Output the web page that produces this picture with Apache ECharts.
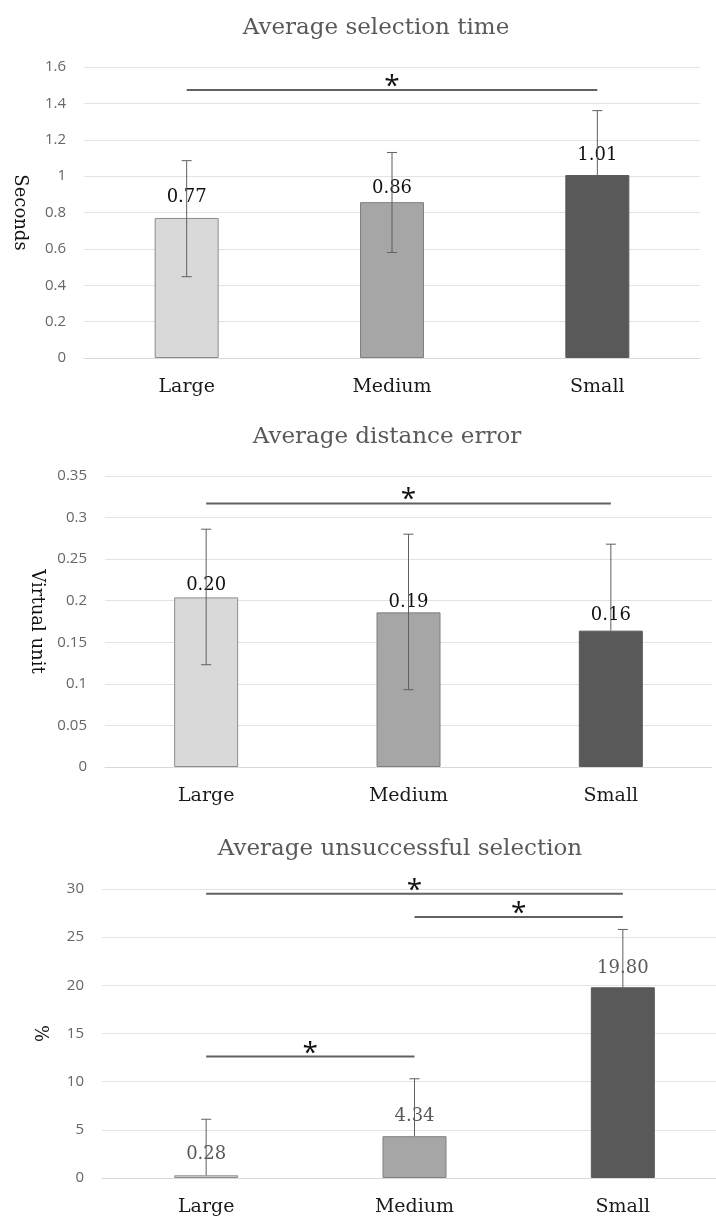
<!DOCTYPE html>
<html>
<head>
<meta charset="utf-8">
<script src="https://cdn.jsdelivr.net/npm/echarts@6/dist/echarts.min.js"></script>
<style>
* { margin: 0; padding: 0; }
body { background: #fff; overflow: hidden; }
#chart-container { width: 740px; height: 1221px; }
</style>
</head>
<body>
<div id="chart-container"></div>
<script>
const categories = ['Large', 'Medium', 'Small']

// Average selection time (seconds)
const timeMeans = [0.77, 0.857, 1.006]
const timeLow = [0.447, 0.58, 1.006]
const timeHigh = [1.085, 1.13, 1.36]
const timeSig = [[0, 2, 1.473]]

// Average distance error (virtual unit)
const distMeans = [0.204, 0.186, 0.164]
const distLow = [0.123, 0.093, 0.164]
const distHigh = [0.286, 0.280, 0.268]
const distSig = [[0, 2, 0.317]]

// Average unsuccessful selection (%) - only upper error shown
const failMeans = [0.28, 4.34, 19.80]
const failLow = [0.28, 4.34, 19.80]
const failHigh = [6.1, 10.3, 25.8]
const failSig = [[0, 2, 29.5], [1, 2, 27.1], [0, 1, 12.6]]

const barColors = ['#d9d9d9', '#a6a6a6', '#595959']
const barBorders = ['#8c8c8c', '#7f7f7f', '#595959']

const serif = "'DejaVu Serif', 'Liberation Serif', serif"
const sans = "'Open Sans', 'Noto Sans', sans-serif"

const panels = [
  {
    title: 'Average selection time', titleX: 376, titleY: 28,
    yName: 'Seconds', nameGap: 55,
    grid: { left: 84, top: 67, width: 616, height: 291 },
    max: 1.6, interval: 0.2,
    means: timeMeans, low: timeLow, high: timeHigh, sig: timeSig,
    labelGap: [12, 5, 11], labelColor: '#111'
  },
  {
    title: 'Average distance error', titleX: 387, titleY: 437,
    yName: 'Virtual unit', nameGap: 59,
    grid: { left: 105, top: 476, width: 607, height: 291 },
    max: 0.35, interval: 0.05,
    means: distMeans, low: distLow, high: distHigh, sig: distSig,
    labelGap: [3, 1, 6], labelColor: '#111'
  },
  {
    title: 'Average unsuccessful selection', titleX: 400, titleY: 849,
    yName: '%', nameGap: 53,
    grid: { left: 102, top: 889, width: 625, height: 289 },
    max: 30, interval: 5,
    means: failMeans, low: failLow, high: failHigh, sig: failSig,
    labelGap: [12, 11, 10], labelColor: '#595959'
  }
]

const chart = echarts.init(document.getElementById('chart-container'))

const grid = []
const xAxis = []
const yAxis = []
const series = []
const graphic = []

panels.forEach((p, i) => {
  grid.push(p.grid)
  graphic.push({
    type: 'text',
    x: p.titleX,
    y: p.titleY,
    style: {
      text: p.title,
      fill: '#595959',
      font: '23px ' + serif,
      textAlign: 'center',
      textVerticalAlign: 'middle'
    }
  })
  xAxis.push({
    type: 'category',
    gridIndex: i,
    data: categories,
    axisTick: { show: false },
    axisLine: { lineStyle: { color: '#d9d9d9', width: 1 } },
    axisLabel: { color: '#1a1a1a', fontFamily: serif, fontSize: 19, margin: 20 }
  })
  yAxis.push({
    type: 'value',
    gridIndex: i,
    min: 0,
    max: p.max,
    interval: p.interval,
    name: p.yName,
    nameLocation: 'middle',
    nameRotate: -90,
    nameGap: p.nameGap,
    nameTextStyle: { color: '#111', fontFamily: serif, fontSize: 18 },
    axisLine: { show: false },
    axisTick: { show: false },
    axisLabel: { color: '#666', fontFamily: sans, fontSize: 15, margin: 18 },
    splitLine: { lineStyle: { color: '#e3e3e3', width: 1 } }
  })

  series.push({
    type: 'bar',
    xAxisIndex: i,
    yAxisIndex: i,
    barWidth: 64,
    data: p.means.map((v, k) => ({
      value: v,
      itemStyle: { color: barColors[k], borderColor: barBorders[k], borderWidth: 1 },
      label: { distance: p.labelGap[k] }
    })),
    label: {
      show: true,
      position: 'top',
      color: p.labelColor,
      fontFamily: serif,
      fontSize: 18,
      formatter: (d) => d.value.toFixed(2)
    },
    z: 2
  })

  series.push({
    type: 'custom',
    xAxisIndex: i,
    yAxisIndex: i,
    encode: { x: 0, y: [1, 2] },
    data: p.means.map((v, k) => [k, p.low[k], p.high[k], v]),
    renderItem: (params, api) => {
      const x = api.value(0)
      const top = api.coord([x, api.value(2)])
      const bot = api.coord([x, api.value(1)])
      const stroke = { stroke: '#5f5f5f', lineWidth: 1 }
      const children = [
        { type: 'line', shape: { x1: top[0], y1: top[1], x2: bot[0], y2: bot[1] }, style: stroke },
        { type: 'line', shape: { x1: top[0] - 5, y1: top[1], x2: top[0] + 5, y2: top[1] }, style: stroke }
      ]
      if (api.value(1) < api.value(3)) {
        children.push({ type: 'line', shape: { x1: bot[0] - 5, y1: bot[1], x2: bot[0] + 5, y2: bot[1] }, style: stroke })
      }
      return { type: 'group', children: children }
    },
    z: 3
  })

  series.push({
    type: 'custom',
    xAxisIndex: i,
    yAxisIndex: i,
    encode: { x: [0, 1], y: 2 },
    data: p.sig,
    renderItem: (params, api) => {
      const a = api.coord([api.value(0), api.value(2)])
      const b = api.coord([api.value(1), api.value(2)])
      return {
        type: 'group',
        children: [
          { type: 'line', shape: { x1: a[0], y1: a[1], x2: b[0], y2: b[1] }, style: { stroke: '#616161', lineWidth: 2 } },
          {
            type: 'text',
            x: (a[0] + b[0]) / 2,
            y: a[1] - 3,
            style: {
              text: '*',
              fill: '#111',
              font: '28px ' + sans,
              textAlign: 'center',
              textVerticalAlign: 'middle'
            }
          }
        ]
      }
    },
    z: 4
  })
})

chart.setOption({
  animation: false,
  backgroundColor: '#fff',
  grid: grid,
  xAxis: xAxis,
  yAxis: yAxis,
  series: series,
  graphic: graphic
})
</script>
</body>
</html>
